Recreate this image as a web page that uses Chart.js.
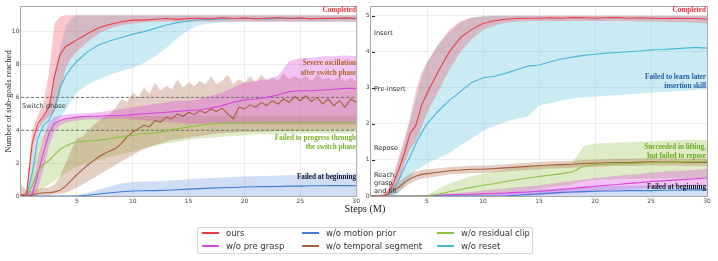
<!DOCTYPE html>
<html>
<head>
<meta charset="utf-8">
<script src="https://cdn.jsdelivr.net/npm/chart.js@4.4.0/dist/chart.umd.min.js"></script>
<style>
  body { margin: 0; background: #fff; }
  #wrap { position: relative; width: 718px; height: 261px; overflow: hidden; font-family: "DejaVu Sans", sans-serif; }
  canvas { position: absolute; top: 0; }
  #xtitle { position: absolute; left: 305px; width: 120px; top: 203px; text-align: center;
            font: 10.3px "Liberation Serif", serif; color: #222; line-height: 12px; }
  #legend { position: absolute; left: 197px; top: 227px; width: 334px; height: 25px;
            border: 1px solid #d4d4d4; border-radius: 2px; }
  .item { position: absolute; font-size: 8.5px; color: #333; line-height: 10px; white-space: nowrap; }
  .item i { position: absolute; left: -24px; top: 4px; width: 17px; height: 2px; }
</style>
</head>
<body>
<div id="wrap">
  <canvas id="left" width="362" height="215" style="left:0;width:362px;height:215px"></canvas>
  <canvas id="right" width="356" height="215" style="left:362px;width:356px;height:215px"></canvas>
  <div id="xtitle">Steps (M)</div>
  <div id="legend"></div>
</div>
<script>
(function(){
  'use strict';

  // time grid (M steps), shared by most curves
  const STEPS = [0,0.5,1,1.5,2,2.5,3,3.5,4,4.5,5,6,7,8,9,10,11,12,13,14,15,16,17,18,19,20,21,22,23,24,25,26,27,28,29,30];
  // denser grid for the noisy temporal-segment curve (left panel)
  const STEPS_FINE = [0,0.5,1,1.5,2,2.5,3,3.5,4,4.5,5,5.5,6,6.5,7,7.5,8,8.5,9,9.5,10,10.5,11,11.5,12,12.5,13,13.5,14,14.5,15,15.5,16,16.5,17,17.5,18,18.5,19,19.5,20,20.5,21,21.5,22,22.5,23,23.5,24,24.5,25,25.5,26,26.5,27,27.5,28,28.5,29,29.5,30];

  const X_TICKS = [5, 10, 15, 20, 25, 30];
  const LEFT_Y_TICKS = [0, 2, 4, 6, 8, 10];
  const RIGHT_Y_TICKS = [0, 1, 2, 3, 4, 5];
  const SWITCH_LEVELS = [4, 6];

  const LABELS = ['ours', 'w/o pre grasp', 'w/o motion prior', 'w/o temporal segment', 'w/o residual clip', 'w/o reset'];
  const COLORS = ['#ee3a48', '#d944d9', '#3f7bd9', '#a5603c', '#8fc043', '#46b8d8'];

  // ---- left panel: all sub-goals ----
  const L_OURS    = [0,0.1,3.2,4.4,4.85,5.4,7.3,8.6,9.1,9.3,9.5,9.9,10.25,10.45,10.6,10.7,10.7,10.75,10.8,10.75,10.8,10.82,10.78,10.85,10.8,10.83,10.78,10.82,10.85,10.8,10.83,10.78,10.82,10.8,10.84,10.8];
  const L_OURS_HI = [0,0.4,4.0,4.9,5.6,7.5,10.5,10.9,11,11,11,11,11,11,11,11,11,11,11,11,11,11,11,11,11,11,11,11,11,11,11,11,11,11,11,11];
  const L_OURS_LO = [0,0,2.4,4.0,4.5,4.8,5.1,6.2,7.8,8.4,8.8,9.4,9.9,10.2,10.4,10.5,10.55,10.6,10.6,10.6,10.62,10.6,10.6,10.62,10.6,10.62,10.6,10.6,10.62,10.6,10.62,10.6,10.6,10.6,10.62,10.6];

  const L_RESET    = [0,0,1.4,3.5,4.3,4.6,5.3,6.6,7.3,7.8,8.2,8.8,9.2,9.45,9.65,9.85,10.0,10.2,10.4,10.55,10.65,10.72,10.75,10.78,10.8,10.8,10.82,10.78,10.8,10.82,10.8,10.8,10.78,10.82,10.8,10.8];
  const L_RESET_HI = [0,0.2,2.4,4.2,4.8,5.4,7.5,9.0,10.3,10.8,11,11,11,11,11,11,11,11,11,11,11,11,11,11,11,11,11,11,11,11,11,11,11,11,11,11];
  const L_RESET_LO = [0,0,0.6,2.8,3.8,4.2,4.4,4.8,5.2,5.8,6.3,6.8,7.1,7.4,7.6,7.8,8.1,8.5,9.0,9.6,10.1,10.4,10.5,10.55,10.6,10.6,10.6,10.6,10.6,10.6,10.6,10.6,10.6,10.6,10.6,10.6];

  const L_PRE    = [0,0,0.1,1.3,2.6,3.8,4.4,4.6,4.7,4.75,4.8,4.85,4.85,4.9,4.9,4.95,5.0,5.05,5.1,5.15,5.2,5.25,5.35,5.5,5.7,5.85,5.9,6.0,6.15,6.35,6.4,6.4,6.45,6.5,6.55,6.55];
  const L_PRE_HI = [0,0,0.4,2.3,3.6,4.5,4.8,4.9,4.95,5.0,5.0,5.05,5.1,5.2,5.3,5.4,5.5,5.6,5.7,5.8,5.8,5.9,6.1,6.3,6.6,6.9,7.0,7.1,7.3,8.2,8.4,8.4,8.5,8.5,8.55,8.5];
  const L_PRE_LO = [0,0,0,0.4,1.6,3.0,3.9,4.3,4.45,4.55,4.6,4.65,4.65,4.7,4.7,4.65,4.6,4.55,4.5,4.45,4.4,4.4,4.4,4.38,4.38,4.36,4.36,4.35,4.35,4.35,4.35,4.35,4.35,4.35,4.35,4.35];

  const L_CLIP    = [0,0,0.6,1.5,1.9,2.15,2.5,2.85,3.05,3.2,3.3,3.35,3.4,3.5,3.6,3.7,3.8,3.85,3.95,4.1,4.2,4.3,4.4,4.42,4.45,4.45,4.46,4.45,4.46,4.45,4.46,4.45,4.46,4.45,4.45,4.44];
  const L_CLIP_HI = [0,0,1.5,3.0,3.8,4.2,4.5,4.6,4.7,4.75,4.8,4.85,4.85,4.85,4.86,4.86,4.87,4.87,4.88,4.88,4.88,4.89,4.89,4.89,4.9,4.9,4.9,4.9,4.9,4.9,4.9,4.9,4.9,4.9,4.9,4.9];
  const L_CLIP_LO = [0,0,0,0.2,0.5,0.7,0.9,1.2,1.4,1.6,1.8,2.0,2.2,2.4,2.55,2.7,2.9,3.05,3.2,3.3,3.4,3.5,3.55,3.6,3.65,3.7,3.75,3.75,3.78,3.78,3.8,3.8,3.8,3.8,3.8,3.8];

  const L_MOTION    = [0,0,0,0,0,0,0,0,0,0,0,0.05,0.12,0.2,0.26,0.3,0.32,0.33,0.35,0.38,0.42,0.45,0.48,0.5,0.52,0.55,0.56,0.57,0.58,0.6,0.6,0.62,0.62,0.63,0.63,0.62];
  const L_MOTION_HI = [0,0,0,0,0,0,0,0,0,0.02,0.05,0.2,0.4,0.6,0.78,0.85,0.88,0.9,0.93,0.97,1.02,1.06,1.1,1.12,1.15,1.18,1.2,1.22,1.25,1.27,1.3,1.32,1.34,1.35,1.36,1.38];
  const L_MOTION_LO = [0,0,0,0,0,0,0,0,0,0,0,0,0,0,0,0,0,0,0,0,0,0,0,0,0,0,0,0,0,0,0,0,0,0,0,0];

  // temporal segment (on STEPS_FINE)
  const L_TEMP    = [0.1,0,0.05,0.15,0.2,0.2,0.25,0.35,0.6,0.95,1.3,1.6,1.9,2.15,2.4,2.6,2.75,2.9,3.2,3.6,3.9,4.1,4.3,4.2,4.6,4.5,4.8,4.7,5.0,4.85,5.1,4.95,5.2,5.05,5.3,5.15,5.35,5.0,4.7,5.4,5.3,5.55,5.4,5.7,5.5,5.8,5.6,5.9,5.7,6.05,5.8,6.1,5.75,6.0,5.6,5.9,5.5,5.8,5.4,5.9,5.7];
  const L_TEMP_HI = [0.7,0.3,0.3,0.4,0.5,0.5,0.7,1.2,2.0,2.8,3.5,3.6,4.0,4.3,4.6,4.8,5.0,5.4,5.9,5.7,6.3,6.0,6.6,6.2,6.9,6.4,6.7,6.5,7.1,6.6,6.9,6.7,7.0,6.8,7.3,6.8,7.0,7.4,6.8,7.1,6.9,7.3,6.9,7.4,7.0,7.2,7.0,7.5,7.1,7.3,7.1,7.3,7.0,7.4,7.1,7.2,7.0,7.3,7.0,7.2,7.0];
  const L_TEMP_LO = [0,0,0,0,0.05,0.05,0.1,0.15,0.2,0.35,0.5,0.7,0.9,1.1,1.3,1.5,1.7,1.9,2.1,2.3,2.5,2.7,2.85,3.0,3.1,3.2,3.3,3.4,3.45,3.5,3.55,3.6,3.65,3.7,3.75,3.8,3.8,3.85,3.85,3.9,3.9,3.9,3.92,3.92,3.94,3.94,3.95,3.95,3.96,3.96,3.97,3.97,3.98,3.98,3.98,4.0,4.0,4.0,4.0,4.0,4.0];

  // ---- right panel: insertion sub-goals ----
  const R_OURS    = [0,0,0,0.05,0.35,0.75,1.2,1.75,1.95,2.5,2.85,3.45,4.0,4.4,4.62,4.78,4.86,4.9,4.92,4.93,4.93,4.94,4.93,4.95,4.94,4.93,4.94,4.95,4.93,4.94,4.93,4.92,4.93,4.92,4.92,4.9];
  const R_OURS_HI = [0,0,0,0.15,0.6,1.1,1.6,2.2,2.9,3.4,3.7,4.2,4.6,4.85,4.95,4.98,5,5,5,5,5,5,5,5,5,5,5,5,5,5,5,5,5,5,5,5];
  const R_OURS_LO = [0,0,0,0,0.15,0.45,0.9,1.3,1.5,1.9,2.3,2.9,3.5,4.0,4.35,4.6,4.72,4.8,4.83,4.85,4.85,4.85,4.85,4.86,4.85,4.85,4.85,4.86,4.85,4.84,4.84,4.83,4.82,4.82,4.8,4.78];

  const R_RESET    = [0,0,0,0,0.15,0.45,0.8,1.1,1.45,1.75,2.0,2.35,2.65,2.9,3.15,3.28,3.32,3.4,3.5,3.6,3.63,3.72,3.8,3.85,3.9,3.93,3.96,3.98,4.0,4.02,4.05,4.06,4.08,4.1,4.12,4.1];
  const R_RESET_HI = [0,0,0,0.1,0.5,1.0,1.5,2.1,2.7,3.3,3.7,4.2,4.55,4.8,4.95,5,5,5,5,5,5,5,5,5,5,5,5,5,5,5,5,5,5,5,5,5];
  const R_RESET_LO = [0,0,0,0,0,0.1,0.3,0.5,0.7,0.8,0.9,1.05,1.2,1.4,1.6,1.8,1.95,2.05,2.15,2.2,2.5,2.58,2.65,2.7,2.73,2.75,2.78,2.8,2.82,2.84,2.86,2.88,2.9,2.92,2.94,2.95];

  const R_TEMP    = [0,0,0,0.05,0.15,0.25,0.38,0.48,0.55,0.6,0.62,0.66,0.7,0.72,0.74,0.74,0.76,0.78,0.8,0.82,0.84,0.86,0.87,0.88,0.9,0.91,0.92,0.93,0.93,0.94,0.95,0.94,0.95,0.93,0.94,0.93];
  const R_TEMP_HI = [0,0,0.05,0.15,0.3,0.4,0.52,0.62,0.68,0.72,0.74,0.77,0.8,0.82,0.84,0.84,0.86,0.88,0.9,0.92,0.94,0.96,0.97,0.98,1.0,1.01,1.02,1.03,1.03,1.04,1.05,1.04,1.05,1.03,1.04,1.03];
  const R_TEMP_LO = [0,0,0,0,0.05,0.12,0.24,0.35,0.42,0.48,0.5,0.55,0.6,0.62,0.64,0.64,0.66,0.68,0.7,0.72,0.74,0.76,0.77,0.78,0.8,0.81,0.82,0.83,0.83,0.84,0.85,0.84,0.85,0.83,0.84,0.83];

  const R_CLIP    = [0,0,0,0,0,0,0,0,0,0,0,0.05,0.12,0.18,0.24,0.3,0.34,0.4,0.45,0.5,0.54,0.58,0.62,0.67,0.83,0.87,0.88,0.89,0.9,0.91,0.92,0.93,0.94,0.95,0.95,0.96];
  const R_CLIP_HI = [0,0,0,0,0,0,0,0,0,0,0.02,0.2,0.35,0.46,0.55,0.62,0.68,0.74,0.78,0.82,0.85,0.88,0.9,0.93,1.38,1.45,1.47,1.48,1.5,1.51,1.52,1.53,1.54,1.55,1.55,1.56];
  const R_CLIP_LO = [0,0,0,0,0,0,0,0,0,0,0,0,0,0,0,0.02,0.05,0.08,0.12,0.16,0.2,0.24,0.28,0.32,0.4,0.45,0.46,0.47,0.47,0.48,0.48,0.49,0.49,0.5,0.5,0.5];

  const R_PRE    = [0,0,0,0,0,0,0,0,0,0,0.01,0.02,0.03,0.04,0.05,0.06,0.07,0.08,0.1,0.11,0.13,0.15,0.18,0.21,0.24,0.27,0.3,0.32,0.35,0.37,0.4,0.42,0.44,0.46,0.48,0.5];
  const R_PRE_HI = [0,0,0,0,0,0,0,0,0,0,0.03,0.05,0.07,0.09,0.12,0.15,0.18,0.21,0.24,0.27,0.3,0.34,0.38,0.42,0.46,0.5,0.53,0.56,0.59,0.62,0.65,0.67,0.69,0.71,0.73,0.75];
  const R_PRE_LO = [0,0,0,0,0,0,0,0,0,0,0,0,0,0,0,0,0,0,0,0.01,0.02,0.04,0.06,0.08,0.1,0.12,0.14,0.16,0.18,0.2,0.22,0.24,0.25,0.26,0.27,0.28];

  const R_MOTION    = [0,0,0,0,0,0,0,0,0,0,0,0,0,0,0,0,0,0,0.02,0.04,0.06,0.08,0.1,0.11,0.12,0.13,0.14,0.14,0.15,0.15,0.15,0.16,0.16,0.17,0.17,0.17];
  const R_MOTION_HI = [0,0,0,0,0,0,0,0,0,0,0,0,0,0,0,0.02,0.05,0.08,0.12,0.15,0.18,0.2,0.22,0.24,0.26,0.27,0.28,0.28,0.29,0.29,0.3,0.3,0.31,0.31,0.32,0.32];
  const R_MOTION_LO = [0,0,0,0,0,0,0,0,0,0,0,0,0,0,0,0,0,0,0,0,0,0,0,0,0,0,0,0,0,0,0,0,0,0,0,0];

  const BAND_ALPHA = [0.28, 0.32, 0.25, 0.3, 0.3, 0.28];

  function pts(xs, ys) { return xs.map((x, i) => ({ x: x, y: ys[i] })); }
  function alpha(hex, a) {
    const n = parseInt(hex.slice(1), 16);
    return `rgba(${n >> 16},${(n >> 8) & 255},${n & 255},${a})`;
  }

  // series: [label index, xs, mean, hi, lo]
  function buildDatasets(series, refLines) {
    const sets = [];
    series.forEach(s => {
      const k = s[0], col = COLORS[k];
      sets.push({ data: pts(s[1], s[4]), borderWidth: 0, pointRadius: 0, fill: false, order: 20 + k });
      sets.push({ data: pts(s[1], s[3]), borderWidth: 0, pointRadius: 0, fill: '-1',
                  backgroundColor: alpha(col, BAND_ALPHA[k]), order: 20 + k });
    });
    (refLines || []).forEach(v => {
      sets.push({ data: [{ x: 0, y: v }, { x: 30, y: v }], borderColor: '#6a6a6a', borderWidth: 0.9,
                  borderDash: [3, 2], pointRadius: 0, fill: false, order: 10 });
    });
    series.forEach(s => {
      const k = s[0];
      sets.push({ label: LABELS[k], data: pts(s[1], s[2]), borderColor: COLORS[k], borderWidth: 1.1,
                  pointRadius: 0, fill: false, order: k === 0 ? 0 : 6 - k });
    });
    return sets;
  }

  const frame = {
    id: 'frame',
    afterDatasetsDraw(chart, args, opts) {
      const a = chart.chartArea, ctx = chart.ctx;
      ctx.save();
      ctx.strokeStyle = '#a8a8a8';
      ctx.lineWidth = 1;
      ctx.strokeRect(a.left - 0.5, a.top - 0.5, a.right - a.left + 1, a.bottom - a.top + 1);
      if (opts.tickMarks) {
        const y = chart.scales.y;
        ctx.strokeStyle = '#222';
        RIGHT_Y_TICKS.forEach(v => {
          if (v === 0) return;
          const py = Math.round(y.getPixelForValue(v)) + 0.5;
          ctx.beginPath(); ctx.moveTo(a.left + 1, py); ctx.lineTo(a.left + 4, py); ctx.stroke();
        });
      }
      (opts.notes || []).forEach(n => {
        ctx.font = n.font;
        ctx.fillStyle = n.color;
        ctx.textAlign = n.align || 'left';
        ctx.textBaseline = 'middle';
        n.lines.forEach((t, i) => ctx.fillText(t, n.x, n.y + i * (n.lh || 9)));
      });
      ctx.restore();
    }
  };

  const BOLD = 'bold 7.2px "Liberation Serif", serif';
  const SANS = '6.6px "DejaVu Sans", sans-serif';

  function makeChart(id, datasets, yMax, yTicks, padRight, yWidth, yTitle, frameOpts) {
    return new Chart(document.getElementById(id), {
      type: 'line',
      data: { datasets: datasets },
      plugins: [frame],
      options: {
        responsive: false,
        animation: false,
        devicePixelRatio: 1,
        layout: { padding: { left: 0, right: padRight, top: 7, bottom: 0 } },
        plugins: { legend: { display: false }, tooltip: { enabled: false }, frame: frameOpts },
        scales: {
          x: {
            type: 'linear', min: 0, max: 30,
            afterBuildTicks: s => { s.ticks = X_TICKS.map(v => ({ value: v })); },
            afterFit: s => { s.height = 19; },
            grid: { color: '#e9e9e9', lineWidth: 0.8, drawTicks: false },
            border: { display: false },
            ticks: { font: { size: 6, family: 'DejaVu Sans' }, color: '#444', padding: 2, maxRotation: 0, autoSkip: false }
          },
          y: {
            type: 'linear', min: 0, max: yMax,
            afterBuildTicks: s => { s.ticks = yTicks.map(v => ({ value: v })); },
            afterFit: s => { s.width = yWidth; },
            grid: { color: '#e9e9e9', lineWidth: 0.8, drawTicks: false },
            border: { display: false },
            ticks: { font: { size: 6, family: 'DejaVu Sans' }, color: '#444', padding: 1.5, autoSkip: false },
            title: yTitle ? { display: true, text: yTitle, color: '#222',
                              font: { family: 'Liberation Serif', size: 8.7 }, padding: { top: 3, bottom: 0 } }
                          : { display: false }
          }
        }
      }
    });
  }

  const leftSeries = [
    [2, STEPS, L_MOTION, L_MOTION_HI, L_MOTION_LO],
    [4, STEPS, L_CLIP, L_CLIP_HI, L_CLIP_LO],
    [3, STEPS_FINE, L_TEMP, L_TEMP_HI, L_TEMP_LO],
    [1, STEPS, L_PRE, L_PRE_HI, L_PRE_LO],
    [5, STEPS, L_RESET, L_RESET_HI, L_RESET_LO],
    [0, STEPS, L_OURS, L_OURS_HI, L_OURS_LO]
  ];
  const rightSeries = [
    [2, STEPS, R_MOTION, R_MOTION_HI, R_MOTION_LO],
    [1, STEPS, R_PRE, R_PRE_HI, R_PRE_LO],
    [4, STEPS, R_CLIP, R_CLIP_HI, R_CLIP_LO],
    [3, STEPS, R_TEMP, R_TEMP_HI, R_TEMP_LO],
    [5, STEPS, R_RESET, R_RESET_HI, R_RESET_LO],
    [0, STEPS, R_OURS, R_OURS_HI, R_OURS_LO]
  ];

  makeChart('left', buildDatasets(leftSeries, SWITCH_LEVELS), 11.5, LEFT_Y_TICKS, 5, 21,
    'Number of sub-goals reached', {
      notes: [
        { x: 356, y: 10, lines: ['Completed'], color: '#f0303c', font: BOLD, align: 'right' },
        { x: 356, y: 63, lines: ['Severe oscillation', 'after switch phase'], color: '#b0682e', font: BOLD, align: 'right', lh: 9.7 },
        { x: 22, y: 106, lines: ['Switch phase'], color: '#3a3a3a', font: SANS },
        { x: 356, y: 138, lines: ['Failed to progress through', 'the switch phase'], color: '#76b02a', font: BOLD, align: 'right', lh: 9.2 },
        { x: 356, y: 177, lines: ['Failed at beginning'], color: '#1c1c30', font: BOLD, align: 'right' }
      ]
    });

  makeChart('right', buildDatasets(rightSeries, []), 5.24, RIGHT_Y_TICKS, 11, 9, null, {
    tickMarks: true,
    notes: [
      { x: 344, y: 10, lines: ['Completed'], color: '#f0303c', font: BOLD, align: 'right' },
      { x: 12, y: 33.5, lines: ['Insert'], color: '#2a2a2a', font: SANS },
      { x: 12, y: 89.5, lines: ['Pre-insert'], color: '#2a2a2a', font: SANS },
      { x: 12, y: 148.5, lines: ['Repose'], color: '#2a2a2a', font: SANS },
      { x: 12, y: 175, lines: ['Reach,', 'grasp', 'and lift'], color: '#2a2a2a', font: SANS, lh: 7.9 },
      { x: 344, y: 77.5, lines: ['Failed to learn later', 'insertion skill'], color: '#1f5ca8', font: BOLD, align: 'right', lh: 8.5 },
      { x: 344, y: 147.5, lines: ['Succeeded in lifting,', 'but failed to repose'], color: '#6aaa1e', font: BOLD, align: 'right', lh: 8.7 },
      { x: 344, y: 187, lines: ['Failed at beginning'], color: '#1c1c30', font: BOLD, align: 'right' }
    ]
  });

  // legend, column-major like the original figure
  const legendSlots = [[28, 5], [28, 18], [128, 5], [128, 18], [263, 5], [263, 18]];
  const legendOrder = [0, 1, 2, 3, 4, 5];
  const lg = document.getElementById('legend');
  legendOrder.forEach((k, i) => {
    const d = document.createElement('div');
    d.className = 'item';
    d.style.left = legendSlots[i][0] + 'px';
    d.style.top = (legendSlots[i][1] - 5) + 'px';
    d.innerHTML = '<i style="background:' + COLORS[k] + '"></i>' + LABELS[k];
    lg.appendChild(d);
  });
})();
</script>
</body>
</html>
